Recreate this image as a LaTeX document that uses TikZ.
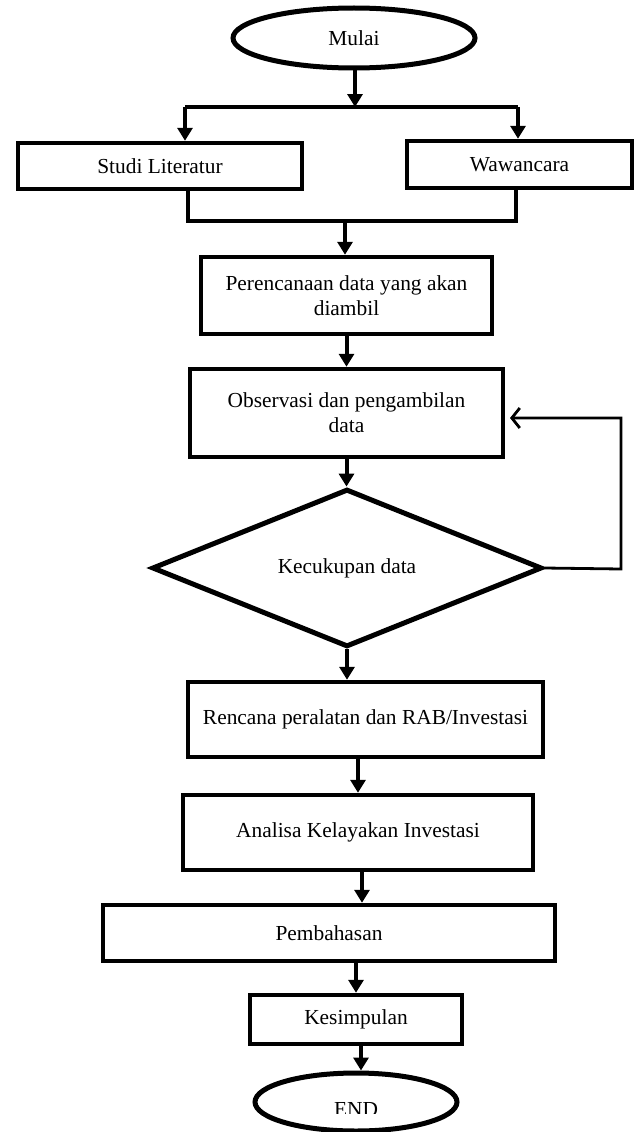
\documentclass[tikz,border=0pt]{standalone}
\usepackage{fontspec}
\setmainfont{Liberation Serif}
\usetikzlibrary{arrows.meta,shapes.geometric}
\begin{document}
\begin{tikzpicture}[x=1pt,y=-1pt,
  every node/.style={font=\fontsize{21.4}{25}\selectfont},
  box/.style={draw,line width=4.5pt,rectangle,inner sep=0pt,align=center},
  term/.style={draw,line width=5pt,ellipse,inner sep=0pt},
  decision/.style={draw,line width=5pt,diamond,inner sep=0pt},
  ln/.style={line width=4pt},
  arr/.style={line width=4pt,-{Triangle[width=15pt,length=13pt]}},
  back/.style={line width=2.8pt,-{Straight Barb[length=8pt,width=20pt,line width=2.8pt]}}]
\useasboundingbox (0,0) rectangle (640,1132);
\fill[white] (0,0) rectangle (640,1132);
% nodes
\node[term,minimum width=242pt,minimum height=60pt] (mulai) at (354,38) {\raisebox{-4pt}{Mulai}};
\node[box,minimum width=284pt,minimum height=46pt] (sl) at (160,166) {Studi Literatur};
\node[box,minimum width=225pt,minimum height=47pt] (ww) at (519.5,164.5) {\raisebox{-2pt}{Wawancara}};
\node[box,minimum width=291pt,minimum height=77pt] (per) at (346.5,295.5) {Perencanaan data yang akan\\diambil};
\node[box,minimum width=313pt,minimum height=88pt] (obs) at (346.5,413) {Observasi dan pengambilan\\data};
\node[decision,minimum width=390pt,minimum height=150pt] (dia) at (347,568) {Kecukupan data};
\node[box,minimum width=355pt,minimum height=75pt] (ren) at (365.5,719.5) {Rencana peralatan dan RAB/Investasi};
\node[box,minimum width=350pt,minimum height=75pt] (ana) at (358,832.5) {Analisa Kelayakan Investasi};
\node[box,minimum width=452pt,minimum height=56pt] (pem) at (329,933) {Pembahasan};
\node[box,minimum width=212pt,minimum height=49pt] (kes) at (356,1019.5) {\raisebox{-4pt}{Kesimpulan}};
\node[term,minimum width=202pt,minimum height=58pt] (end) at (356,1102) {};
\begin{scope}
  \clip (0,0) rectangle (640,1113);
  \node[anchor=base] (endtxt) at (356,1116) {END};
\end{scope}
% split
\coordinate (hl) at (185,107);
\coordinate (hr) at (518,107);
\coordinate (hm) at (355,107);
\draw[arr] (mulai.south -| hm) -- (hm);
\draw[ln] (hl) -- (hr);
\draw[arr] (hl) -- (hl |- sl.north);
\draw[arr] (hr) -- (hr |- ww.north);
% merge
\coordinate (ml) at (188,221);
\coordinate (mr) at (516,221);
\coordinate (mm) at (345,221);
\draw[ln] (ml |- sl.south) -- (ml) -- (mr) -- (mr |- ww.south);
\draw[arr] (mm) -- (mm |- per.north);
% chain
\draw[arr] (per.south) -- (per.south |- obs.north);
\draw[arr] (obs.south) -- (obs.south |- dia.north);
\draw[arr] (dia.south) -- (dia.south |- ren.north);
\draw[arr] (ana.north |- ren.south) -- (ana.north);
\draw[arr] ([xshift=4pt]ana.south) -- ([xshift=4pt]ana.south |- pem.north);
\draw[arr] (kes.north |- pem.south) -- (kes.north);
\draw[arr] ([xshift=5pt]kes.south) -- ([xshift=5pt]kes.south |- end.north);
% loop back
\coordinate (lp) at (621,569);
\coordinate (lt) at (510,418);
\draw[back] (dia.east) -- (lp) -- (lp |- lt) -- (lt);
\end{tikzpicture}
\end{document}
